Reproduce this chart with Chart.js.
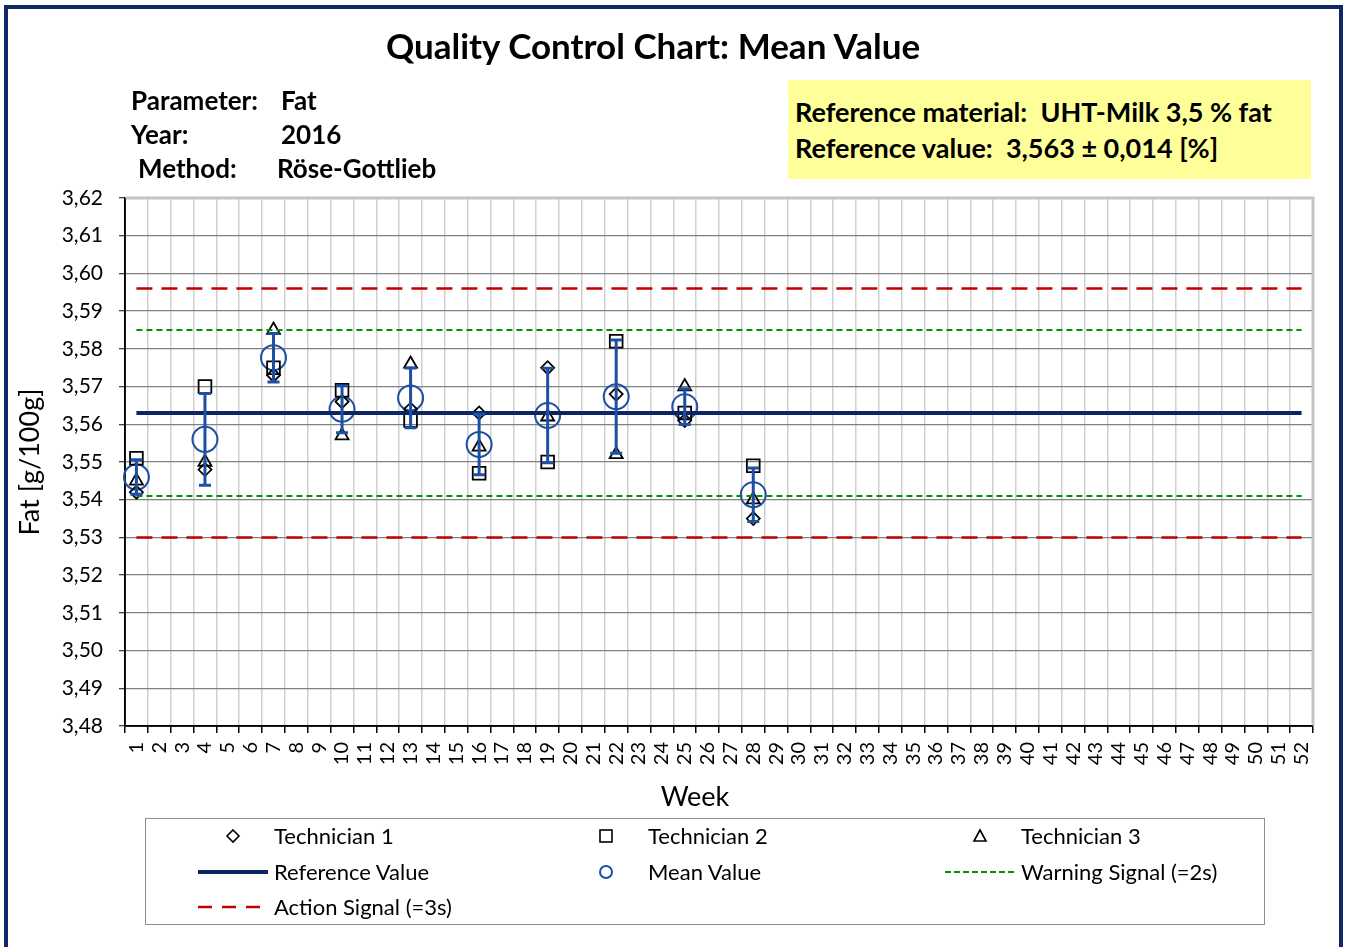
<!DOCTYPE html>
<html lang="en">
<head>
    <meta charset="UTF-8">
    <title>Quality Control Chart: Mean Value</title>
    <script src="https://cdn.jsdelivr.net/npm/chart.js@4/dist/chart.umd.min.js"></script>
    <style>
        body {
            margin: 0;
            padding: 0;
            background: #fff;
            font-family: 'Lato', 'DejaVu Sans', sans-serif;
            color: #000;
        }
        #page {
            position: relative;
            width: 1345px;
            height: 947px;
            overflow: hidden;
            background: #fff;
        }
        #frame {
            position: absolute;
            left: 4px;
            top: 5px;
            width: 1339px;
            height: 980px;
            border: 4px solid #0f2767;
            box-sizing: border-box;
        }
        #chartBox {
            position: absolute;
            left: 0;
            top: 0;
            width: 1345px;
            height: 947px;
        }
        .txt {
            position: absolute;
            white-space: nowrap;
        }
        #title {
            left: 0;
            width: 1306px;
            top: 24px;
            text-align: center;
            font-size: 35px;
            line-height: 42px;
            font-weight: bold;
        }
        .info {
            font-size: 26px;
            line-height: 30px;
            font-weight: bold;
        }
        .info2 {
            font-size: 27px;
            line-height: 32px;
            font-weight: bold;
        }
        #refBox {
            position: absolute;
            left: 788px;
            top: 80px;
            width: 523px;
            height: 99px;
            background: #ffff99;
        }
        #xTitle {
            left: 695px;
            top: 780px;
            transform: translateX(-50%);
            font-size: 27px;
            line-height: 32px;
        }
        #legendBox {
            position: absolute;
            left: 145px;
            top: 818px;
            width: 1120px;
            height: 107px;
            border: 1px solid #8c8c8c;
            box-sizing: border-box;
        }
        .leg {
            font-size: 22px;
            line-height: 26px;
        }
    </style>
</head>
<body>
<div id="page">
    <div id="chartBox"><canvas id="qcChart"></canvas></div>

    <div class="txt" id="title">Quality Control Chart: Mean Value</div>

    <div class="txt info" style="left:131px; top:85px;">Parameter:</div>
    <div class="txt info" style="left:281px; top:85px;">Fat</div>
    <div class="txt info" style="left:131px; top:119px;">Year:</div>
    <div class="txt info" style="left:281px; top:119px;">2016</div>
    <div class="txt info" style="left:138px; top:153px;">Method:</div>
    <div class="txt info" style="left:277px; top:153px;">Röse-Gottlieb</div>

    <div id="refBox"></div>
    <div class="txt info2" style="left:795px; top:96px;">Reference material:&nbsp; UHT-Milk 3,5 % fat</div>
    <div class="txt info2" style="left:795px; top:132px;">Reference value:&nbsp; 3,563 ± 0,014 [%]</div>

    <div class="txt" id="xTitle">Week</div>

    <div id="legendBox">
        <svg width="1120" height="107" style="position:absolute; left:-1px; top:-1px;">
            <polygon points="88,12 94,18 88,24 82,18" fill="none" stroke="#000" stroke-width="1.6"/>
            <rect x="455" y="12" width="12" height="12" fill="none" stroke="#000" stroke-width="1.6"/>
            <polygon points="835,12 841,23 829,23" fill="none" stroke="#000" stroke-width="1.6"/>
            <line x1="53" y1="54" x2="123" y2="54" stroke="#0d2464" stroke-width="4"/>
            <circle cx="461" cy="54" r="6" fill="none" stroke="#1f4fa3" stroke-width="2"/>
            <line x1="800" y1="54" x2="870" y2="54" stroke="#009000" stroke-width="2" stroke-dasharray="6,3"/>
            <line x1="53" y1="89" x2="123" y2="89" stroke="#c00000" stroke-width="2.5" stroke-dasharray="14,10"/>
        </svg>
    </div>
    <div class="txt leg" style="left:274px; top:823px;">Technician 1</div>
    <div class="txt leg" style="left:648px; top:823px;">Technician 2</div>
    <div class="txt leg" style="left:1021px; top:823px;">Technician 3</div>
    <div class="txt leg" style="left:274px; top:859px;">Reference Value</div>
    <div class="txt leg" style="left:648px; top:859px;">Mean Value</div>
    <div class="txt leg" style="left:1021px; top:859px;">Warning Signal (=2s)</div>
    <div class="txt leg" style="left:274px; top:894px;">Action Signal (=3s)</div>

    <div id="frame"></div>
</div>

<script>
    // x categories (weeks) and measurement weeks
    const weekLabels = ['1', '2', '3', '4', '5', '6', '7', '8', '9', '10', '11', '12', '13',
        '14', '15', '16', '17', '18', '19', '20', '21', '22', '23', '24', '25', '26',
        '27', '28', '29', '30', '31', '32', '33', '34', '35', '36', '37', '38', '39',
        '40', '41', '42', '43', '44', '45', '46', '47', '48', '49', '50', '51', '52'];
    const measuredWeeks = [1, 4, 7, 10, 13, 16, 19, 22, 25, 28];

    // results per technician
    const technician1 = [3.542, 3.548, 3.573, 3.566, 3.564, 3.563, 3.575, 3.568, 3.561, 3.535];
    const technician2 = [3.551, 3.570, 3.575, 3.569, 3.561, 3.547, 3.550, 3.582, 3.563, 3.549];
    const technician3 = [3.545, 3.550, 3.585, 3.557, 3.576, 3.554, 3.562, 3.552, 3.570, 3.540];

    // control limits
    const referenceValue = 3.563;
    const warningLimits = [3.541, 3.585];   // +- 2s
    const actionLimits = [3.530, 3.596];    // +- 3s

    const yMin = 3.48, yMax = 3.62, yStep = 0.01;

    // mean and standard deviation per week
    const meanValues = measuredWeeks.map((w, i) => (technician1[i] + technician2[i] + technician3[i]) / 3);
    const sdValues = measuredWeeks.map((w, i) => {
        const m = meanValues[i];
        const s = [technician1[i], technician2[i], technician3[i]]
            .reduce((acc, v) => acc + (v - m) * (v - m), 0);
        return Math.sqrt(s / 2);
    });

    const points = arr => measuredWeeks.map((w, i) => ({ x: String(w), y: arr[i] }));
    const flat = v => weekLabels.map(w => ({ x: w, y: v }));

    const FONT = 'Lato';

    // error bars (mean +- sd) drawn through the scales
    const errorBars = {
        id: 'errorBars',
        afterDatasetsDraw(chart) {
            const { ctx, scales: { x, y } } = chart;
            ctx.save();
            ctx.strokeStyle = '#1f4fa3';
            ctx.lineWidth = 3;
            measuredWeeks.forEach((w, i) => {
                const px = x.getPixelForValue(weekLabels.indexOf(String(w)));
                const top = y.getPixelForValue(meanValues[i] + sdValues[i]);
                const bot = y.getPixelForValue(meanValues[i] - sdValues[i]);
                ctx.beginPath();
                ctx.moveTo(px, top);
                ctx.lineTo(px, bot);
                ctx.moveTo(px - 6, top);
                ctx.lineTo(px + 6, top);
                ctx.moveTo(px - 6, bot);
                ctx.lineTo(px + 6, bot);
                ctx.stroke();
            });
            ctx.restore();
        }
    };

    // grey border on top/right of plot area
    const plotBorder = {
        id: 'plotBorder',
        beforeDatasetsDraw(chart) {
            const { ctx, chartArea: a } = chart;
            ctx.save();
            ctx.strokeStyle = '#c3c3c3';
            ctx.lineWidth = 3;
            ctx.beginPath();
            ctx.moveTo(a.left, a.top);
            ctx.lineTo(a.right, a.top);
            ctx.lineTo(a.right, a.bottom);
            ctx.stroke();
            ctx.strokeStyle = '#000';
            ctx.lineWidth = 1.5;
            ctx.beginPath();
            ctx.moveTo(a.left, a.top);
            ctx.lineTo(a.left, a.bottom);
            ctx.lineTo(a.right, a.bottom);
            ctx.stroke();
            ctx.restore();
        }
    };

    const markerBase = {
        type: 'line',
        showLine: false,
        borderColor: '#000',
        backgroundColor: 'rgba(255,255,255,0)',
        pointBorderWidth: 1.8,
        pointHoverRadius: 0
    };

    new Chart(document.getElementById('qcChart'), {
        type: 'line',
        data: {
            labels: weekLabels,
            datasets: [
                {
                    label: 'Action Signal (=3s) upper',
                    data: flat(actionLimits[1]),
                    borderColor: '#c00000', borderWidth: 2.5, borderDash: [16, 9],
                    pointRadius: 0, fill: false
                },
                {
                    label: 'Action Signal (=3s) lower',
                    data: flat(actionLimits[0]),
                    borderColor: '#c00000', borderWidth: 2.5, borderDash: [16, 9],
                    pointRadius: 0, fill: false
                },
                {
                    label: 'Warning Signal (=2s) upper',
                    data: flat(warningLimits[1]),
                    borderColor: '#009000', borderWidth: 2, borderDash: [6, 4],
                    pointRadius: 0, fill: false
                },
                {
                    label: 'Warning Signal (=2s) lower',
                    data: flat(warningLimits[0]),
                    borderColor: '#009000', borderWidth: 2, borderDash: [6, 4],
                    pointRadius: 0, fill: false
                },
                {
                    label: 'Reference Value',
                    data: flat(referenceValue),
                    borderColor: '#0d2464', borderWidth: 4,
                    pointRadius: 0, fill: false
                },
                Object.assign({}, markerBase, {
                    label: 'Technician 1',
                    data: points(technician1),
                    pointStyle: 'rectRot', pointRadius: 6.5
                }),
                Object.assign({}, markerBase, {
                    label: 'Technician 2',
                    data: points(technician2),
                    pointStyle: 'rect', pointRadius: 9
                }),
                Object.assign({}, markerBase, {
                    label: 'Technician 3',
                    data: points(technician3),
                    pointStyle: 'triangle', pointRadius: 7.5
                }),
                Object.assign({}, markerBase, {
                    label: 'Mean Value',
                    data: points(meanValues),
                    borderColor: '#1f4fa3',
                    pointStyle: 'circle', pointRadius: 12.5, pointBorderWidth: 2
                })
            ]
        },
        options: {
            responsive: true,
            maintainAspectRatio: false,
            animation: false,
            layout: { padding: { left: 14, top: 198, right: 32, bottom: 133 } },
            plugins: {
                legend: { display: false },
                title: { display: false },
                tooltip: { enabled: false }
            },
            scales: {
                x: {
                    type: 'category',
                    offset: true,
                    grid: {
                        offset: true,
                        color: '#d0d0d0',
                        lineWidth: 1.5,
                        tickLength: 7,
                        tickColor: '#000',
                        drawTicks: true
                    },
                    border: { color: '#000', width: 1.5 },
                    ticks: {
                        autoSkip: false,
                        minRotation: 90,
                        maxRotation: 90,
                        padding: 9,
                        color: '#000',
                        font: { family: FONT, size: 20 }
                    },
                    title: { display: false },
                    afterFit(scale) { scale.height = 88; }
                },
                y: {
                    min: yMin,
                    max: yMax,
                    grid: {
                        color: '#808080',
                        lineWidth: 1.3,
                        tickLength: 6,
                        tickColor: '#404040'
                    },
                    border: { color: '#000', width: 1.5 },
                    ticks: {
                        stepSize: yStep,
                        padding: 16,
                        color: '#000',
                        font: { family: FONT, size: 21 },
                        callback: v => Number(v).toFixed(2).replace('.', ',')
                    },
                    title: {
                        display: true,
                        text: 'Fat [g/100g]',
                        color: '#000',
                        padding: { top: 0, bottom: 0 },
                        font: { family: FONT, size: 27 }
                    },
                    afterFit(scale) { scale.width = 111; }
                }
            }
        },
        plugins: [plotBorder, errorBars]
    });
</script>
</body>
</html>
